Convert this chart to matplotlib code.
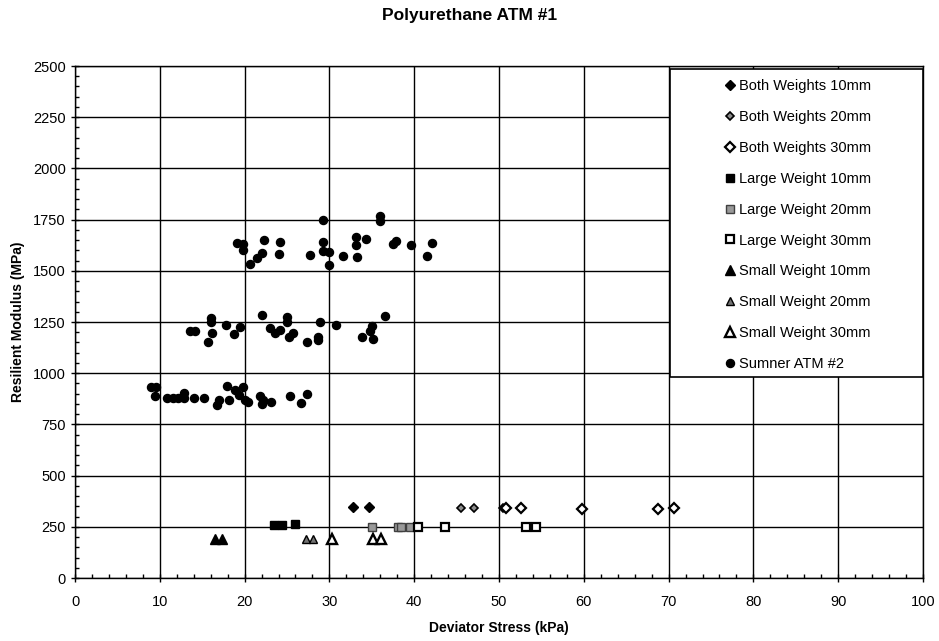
import numpy as np
import matplotlib
matplotlib.use('Agg')
import matplotlib.pyplot as plt
from matplotlib.ticker import MultipleLocator
from matplotlib.patches import Rectangle

plt.rcParams['font.family'] = ['Liberation Sans', 'DejaVu Sans']

# Sumner ATM #2 (deviator stress kPa, resilient modulus MPa)
sumner_x = [19.1, 19.8, 19.8, 20.6, 21.5, 22.1, 22.3, 24.2, 24.1, 27.7, 29.2, 29.2, 29.2,
            30.0, 30.0, 31.6, 33.1, 33.1, 33.3, 34.3, 36.0, 36.0, 37.5, 37.9, 39.6, 41.5, 42.1,
            13.6, 14.1, 16.0, 16.0, 16.2, 15.7, 17.8, 18.7, 19.5, 22.0, 23.0, 23.6, 24.2,
            25.0, 25.0, 25.2, 25.7, 27.3, 28.7, 28.7, 28.9, 30.8, 33.9, 35.0, 34.8, 35.1, 36.5,
            9.0, 9.6, 9.4, 10.9, 11.6, 12.2, 12.9, 12.9, 14.0, 15.2, 16.8, 17.0, 17.9, 18.2,
            18.9, 19.3, 19.8, 20.0, 20.4, 21.8, 22.2, 22.1, 23.1, 25.3, 26.6, 27.4]
sumner_y = [1636, 1630, 1600, 1532, 1561, 1589, 1649, 1641, 1584, 1579, 1748, 1641, 1598,
            1593, 1530, 1572, 1667, 1624, 1569, 1655, 1767, 1745, 1629, 1645, 1624, 1574, 1637,
            1207, 1207, 1268, 1250, 1198, 1154, 1234, 1193, 1224, 1286, 1219, 1198, 1211,
            1276, 1252, 1178, 1195, 1151, 1162, 1178, 1249, 1235, 1178, 1230, 1207, 1165, 1280,
            935, 935, 889, 877, 877, 877, 905, 877, 877, 877, 845, 869, 939, 869,
            918, 894, 934, 869, 861, 889, 869, 848, 861, 889, 856, 897]

both10_x = [32.8, 34.7]
both10_y = [345, 345]
both20_x = [45.5, 47.1, 50.5]
both20_y = [340, 340, 340]
both30_x = [50.8, 52.6, 59.8, 68.7, 70.6]
both30_y = [340, 340, 335, 335, 340]
large10_x = [23.5, 24.4, 26.0]
large10_y = [260, 260, 262]
large20_x = [35.0, 38.1, 38.5, 39.5]
large20_y = [250, 250, 250, 250]
large30_x = [40.4, 43.6, 53.2, 54.4]
large30_y = [250, 250, 250, 248]
small10_x = [16.5, 17.3]
small10_y = [192, 192]
small20_x = [27.2, 28.1]
small20_y = [190, 190]
small30_x = [30.3, 35.2, 36.1]
small30_y = [190, 188, 188]

W, H = 939, 641
fig = plt.figure(figsize=(W / 100, H / 100), dpi=100)
ax = fig.add_axes([75 / W, 1 - 578 / H, 848 / W, 512 / H])

ax.plot(both10_x, both10_y, 'D', ms=5.2, color='black', mec='black', label='Both Weights 10mm', zorder=3)
ax.plot(both20_x, both20_y, 'D', ms=4.4, mfc='0.55', mec='black', mew=1.2, label='Both Weights 20mm', zorder=3)
ax.plot(both30_x, both30_y, 'D', ms=4.8, mfc='white', mec='black', mew=1.6, label='Both Weights 30mm', zorder=3)
ax.plot(large10_x, large10_y, 's', ms=6.2, color='black', label='Large Weight 10mm', zorder=3)
ax.plot(large20_x, large20_y, 's', ms=5.5, mfc='0.6', mec='0.25', mew=1.0, label='Large Weight 20mm', zorder=3)
ax.plot(large30_x, large30_y, 's', ms=6.2, mfc='white', mec='black', mew=1.6, label='Large Weight 30mm', zorder=3)
ax.plot(small10_x, small10_y, '^', ms=6.5, color='black', label='Small Weight 10mm', zorder=3)
ax.plot(small20_x, small20_y, '^', ms=6, mfc='0.45', mec='black', mew=1.0, label='Small Weight 20mm', zorder=3)
ax.plot(small30_x, small30_y, '^', ms=6.5, mfc='white', mec='black', mew=1.7, label='Small Weight 30mm', zorder=3)
ax.plot(sumner_x, sumner_y, 'o', ms=5.8, color='black', label='Sumner ATM #2', zorder=3)

ax.set_xlim(0, 100)
ax.set_ylim(0, 2500)
ax.xaxis.set_major_locator(MultipleLocator(10))
ax.xaxis.set_minor_locator(MultipleLocator(2))
ax.yaxis.set_major_locator(MultipleLocator(250))
ax.yaxis.set_minor_locator(MultipleLocator(50))
ax.grid(True, which='major', color='black', linewidth=1.0)
ax.tick_params(which='major', direction='inout', length=6, width=1, labelsize=10.5)
ax.tick_params(axis='x', which='major', pad=9)
ax.tick_params(which='minor', direction='in', length=3, width=1)
for s in ax.spines.values():
    s.set_linewidth(1.0)

ax.set_xlabel('Deviator Stress (kPa)', fontsize=10, fontweight='bold', labelpad=9)
ax.set_ylabel('Resilient Modulus (MPa)', fontsize=10, fontweight='bold', labelpad=6)
fig.suptitle('Polyurethane ATM #1', x=0.5, y=0.988, fontsize=12.5, fontweight='bold')

# legend box drawn over the plot area
box = Rectangle(((670 - 75) / 848, (578 - 377) / 512), (923 - 670) / 848, (377 - 69) / 512,
                transform=ax.transAxes, facecolor='white', edgecolor='black', linewidth=1.2,
                zorder=4, clip_on=False)
ax.add_patch(box)
leg = ax.legend(loc='upper left', bbox_to_anchor=(726 / W, 1 - 79 / H), bbox_transform=fig.transFigure,
                frameon=False, fontsize=10.5, labelspacing=1.16,
                handlelength=0.6, handletextpad=0.3, borderpad=0.0, borderaxespad=0.0)
leg.set_zorder(5)

fig.savefig('out.png', dpi=100)
